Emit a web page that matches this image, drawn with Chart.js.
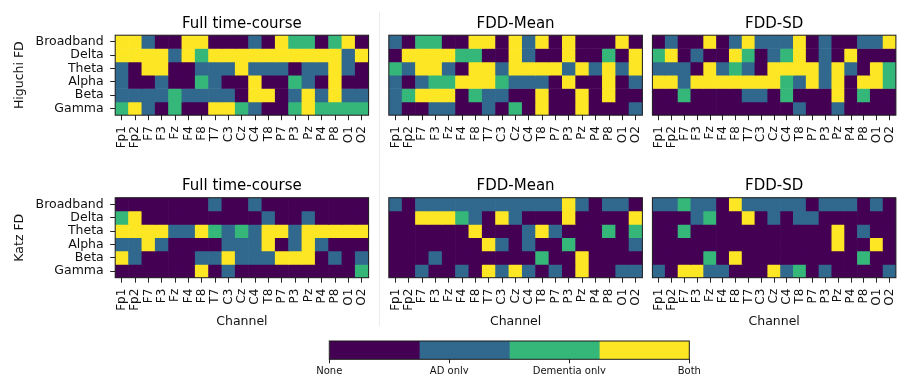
<!DOCTYPE html>
<html>
<head>
<meta charset="utf-8">
<script src="https://cdn.jsdelivr.net/npm/chart.js@4/dist/chart.umd.min.js"></script>
<style>
  html, body { margin: 0; padding: 0; width: 905px; height: 374px; overflow: hidden; background: #fff; }
  canvas { position: absolute; left: 0; top: 0; }
  #divider { position: absolute; left: 378.5px; top: 12px; width: 1.5px; height: 314px; background: #ececec; }
</style>
</head>
<body>
<div id="divider"></div>
<canvas id="hFull" width="910" height="400"></canvas>
<canvas id="hMean" width="910" height="400"></canvas>
<canvas id="hSD" width="910" height="400"></canvas>
<canvas id="kFull" width="910" height="400"></canvas>
<canvas id="kMean" width="910" height="400"></canvas>
<canvas id="kSD" width="910" height="400"></canvas>
<canvas id="legendBar" width="910" height="400"></canvas>
<script>
// EEG channels (columns) and frequency bands (rows, top to bottom)
const channels = ['Fp1','Fp2','F7','F3','Fz','F4','F8','T7','C3','Cz','C4','T8','P7','P3','Pz','P4','P8','O1','O2'];
const bands = ['Broadband','Delta','Theta','Alpha','Beta','Gamma'];

// Outcome categories: 0 = None, 1 = AD only, 2 = Dementia only, 3 = Both
const outcomes = ['None','AD only','Dementia only','Both'];
const outcomeColors = ['#440154','#31688e','#35b779','#fde725'];

// Higuchi FD
const higuchiFull = [
  [3,3,1,0,0,3,3,0,0,0,1,0,3,2,2,0,2,3,0],
  [3,3,3,3,1,3,2,3,3,3,3,3,3,3,3,3,3,1,3],
  [1,0,3,3,0,0,1,1,1,3,1,1,1,0,1,1,3,1,0],
  [1,0,0,1,0,0,2,1,0,0,3,0,0,2,1,0,3,0,0],
  [1,1,1,1,2,1,1,1,1,0,3,3,0,1,3,1,3,1,1],
  [2,3,1,0,2,0,0,3,3,2,1,0,0,2,3,2,2,2,2]
];
const higuchiMean = [
  [1,0,2,2,0,0,3,3,0,3,1,3,0,3,0,0,0,3,0],
  [0,3,3,3,3,2,2,0,0,3,1,0,0,3,0,0,2,0,3],
  [2,1,3,3,1,0,3,3,1,3,3,3,3,1,3,1,3,1,3],
  [1,0,1,2,2,3,3,3,2,1,1,1,0,3,0,0,3,0,1],
  [1,2,3,3,3,0,2,1,1,0,0,3,0,0,3,0,3,0,0],
  [1,0,0,1,1,0,0,1,0,2,0,3,0,0,3,0,0,0,1]
];
const higuchiSD = [
  [0,1,0,0,3,0,1,3,1,1,1,3,0,1,0,0,1,1,3],
  [2,3,0,1,0,0,3,2,0,1,2,3,0,1,0,3,0,0,0],
  [1,1,1,0,3,1,2,1,0,3,3,3,3,1,3,1,0,3,2],
  [3,3,1,3,3,3,3,3,3,3,2,1,3,1,3,0,3,3,2],
  [0,0,2,0,0,0,0,1,1,0,2,0,0,0,3,0,2,0,0],
  [0,0,0,0,0,0,0,0,0,0,0,1,0,0,1,0,0,0,0]
];

// Katz FD
const katzFull = [
  [0,0,0,0,0,0,0,1,0,0,1,0,0,0,0,0,0,0,0],
  [2,3,0,0,0,0,0,0,0,0,0,1,0,0,1,0,0,0,0],
  [3,3,3,3,1,1,3,2,1,2,1,3,3,1,3,3,3,3,3],
  [1,1,3,1,0,0,0,0,1,1,1,3,0,1,3,1,0,0,0],
  [3,1,0,0,0,0,1,1,3,1,1,1,3,3,3,0,1,0,1],
  [0,0,0,0,0,0,3,0,1,0,0,0,0,0,0,0,0,0,2]
];
const katzMean = [
  [1,0,1,1,1,1,1,1,1,1,1,1,1,3,1,0,1,1,0],
  [0,0,3,3,3,2,1,0,3,1,0,0,0,3,0,0,0,0,3],
  [0,0,0,0,0,0,3,0,0,0,1,3,1,0,0,0,2,0,2],
  [0,0,0,0,0,0,0,3,1,0,1,0,0,2,0,0,0,0,1],
  [0,0,0,1,0,0,0,0,0,0,0,2,0,0,3,0,0,0,0],
  [0,0,1,0,0,1,0,3,1,3,1,0,1,0,3,0,0,1,1]
];
const katzSD = [
  [1,1,2,1,1,0,3,1,1,1,1,1,0,1,1,1,0,1,0],
  [0,0,0,1,2,0,0,3,0,1,0,1,1,0,0,0,0,0,0],
  [0,0,2,0,0,0,0,0,0,0,0,0,0,0,3,0,1,0,0],
  [0,0,0,0,0,0,0,0,0,0,0,0,0,0,3,0,0,3,0],
  [0,0,0,0,2,0,3,0,0,0,0,0,0,0,0,0,2,0,0],
  [1,0,3,3,1,1,0,0,0,3,1,2,0,1,0,0,0,0,1]
];

const CW = 910, CH = 400;
const FONT = "'DejaVu Sans', 'Liberation Sans', sans-serif";
const INK = '#111';

// thin dark outline around each plot area
const frame = {
  id: 'frame',
  afterDatasetsDraw(chart) {
    const { ctx, chartArea: a } = chart;
    ctx.save();
    ctx.strokeStyle = '#1a1a1a';
    ctx.lineWidth = 1;
    ctx.strokeRect(a.left, a.top, a.right - a.left, a.bottom - a.top);
    ctx.restore();
  }
};

// panel heading, centred over the plot area itself
const panelTitle = {
  id: 'panelTitle',
  afterDraw(chart, args, opts) {
    if (!opts.text) return;
    const { ctx, chartArea: a } = chart;
    ctx.save();
    ctx.fillStyle = '#000';
    ctx.font = `15px ${FONT}`;
    ctx.textAlign = 'center';
    ctx.textBaseline = 'alphabetic';
    ctx.fillText(opts.text, (a.left + a.right) / 2, a.top - 7.5);
    ctx.restore();
  }
};

// one heatmap: each row is a set of floating bars, one bar per channel
function heatmap(id, grid, box, titleText, yTitle, xTitle) {
  const n = bands.length;
  const yAxisWidth = yTitle ? box.left - 5 : 0;
  const xAxisHeight = xTitle ? 52 : 45;
  new Chart(document.getElementById(id), {
    type: 'bar',
    data: {
      labels: channels,
      datasets: grid.map((row, r) => ({
        data: row.map(() => [n - 1 - r, n - r]),
        backgroundColor: row.map(code => outcomeColors[code]),
        borderWidth: 0,
        grouped: false,
        barPercentage: 1,
        categoryPercentage: 1
      }))
    },
    options: {
      responsive: false,
      animation: false,
      devicePixelRatio: 1,
      events: [],
      layout: {
        padding: {
          left: box.left - yAxisWidth,
          right: CW - box.right,
          top: box.top,
          bottom: CH - box.bottom - xAxisHeight
        }
      },
      plugins: {
        legend: { display: false },
        tooltip: { enabled: false },
        title: { display: false },
        panelTitle: { text: titleText }
      },
      scales: {
        x: {
          type: 'category',
          offset: true,
          grid: { offset: false, drawOnChartArea: false, drawTicks: true, tickLength: 5, color: '#222', lineWidth: 1 },
          border: { display: false },
          ticks: {
            autoSkip: false, minRotation: 90, maxRotation: 90, padding: 6,
            color: INK, font: { family: FONT, size: 12 }
          },
          title: {
            display: !!xTitle, text: xTitle || '', color: INK,
            font: { family: FONT, size: 12.5 }, padding: { top: 0, bottom: 0 }
          },
          afterFit(scale) { scale.height = xAxisHeight; }
        },
        y: {
          type: 'linear',
          display: !!yTitle,
          min: 0,
          max: n,
          grid: { drawOnChartArea: false, drawTicks: true, tickLength: 5, color: '#222', lineWidth: 1 },
          border: { display: false },
          afterBuildTicks(scale) {
            scale.ticks = bands.map((_, r) => ({ value: n - 0.5 - r }));
          },
          ticks: {
            autoSkip: false, padding: 6.5, color: INK,
            font: { family: FONT, size: 12.5 },
            callback: (v) => bands[Math.round(n - 0.5 - v)]
          },
          title: {
            display: !!yTitle, text: yTitle || '', color: INK,
            font: { family: FONT, size: 12.5 }, padding: { top: 7.4, bottom: 0 }
          },
          afterFit(scale) { scale.width = yAxisWidth; }
        }
      }
    },
    plugins: [frame, panelTitle]
  });
}

const topRow = { top: 35.2, bottom: 115.2 };
const bottomRow = { top: 197.7, bottom: 277.7 };
const cols = [
  { left: 115.2, right: 368.6 },
  { left: 388.8, right: 642.4 },
  { left: 652.4, right: 905.9 }
];

heatmap('hFull', higuchiFull, { ...cols[0], ...topRow }, 'Full time-course', 'Higuchi FD', null);
heatmap('hMean', higuchiMean, { ...cols[1], ...topRow }, 'FDD-Mean', null, null);
heatmap('hSD', higuchiSD, { ...cols[2], ...topRow }, 'FDD-SD', null, null);
heatmap('kFull', katzFull, { ...cols[0], ...bottomRow }, 'Full time-course', 'Katz FD', 'Channel');
heatmap('kMean', katzMean, { ...cols[1], ...bottomRow }, 'FDD-Mean', null, 'Channel');
heatmap('kSD', katzSD, { ...cols[2], ...bottomRow }, 'FDD-SD', null, 'Channel');

// horizontal colour key for the four outcome categories
(function colourKey() {
  const k = outcomes.length;
  const span = (k - 1) / k;
  const box = { left: 329.3, right: 689.3, top: 341, bottom: 359.3 };
  const xAxisHeight = 20;
  new Chart(document.getElementById('legendBar'), {
    type: 'bar',
    data: {
      labels: [''],
      datasets: outcomes.map((name, i) => ({
        label: name,
        data: [[i * span, (i + 1) * span]],
        backgroundColor: outcomeColors[i],
        borderWidth: 0,
        grouped: false,
        barPercentage: 1,
        categoryPercentage: 1
      }))
    },
    options: {
      indexAxis: 'y',
      responsive: false,
      animation: false,
      devicePixelRatio: 1,
      events: [],
      layout: {
        padding: { left: box.left, right: CW - box.right, top: box.top, bottom: CH - box.bottom - xAxisHeight }
      },
      plugins: { legend: { display: false }, tooltip: { enabled: false }, title: { display: false } },
      scales: {
        x: {
          type: 'linear', min: 0, max: k - 1,
          grid: { drawOnChartArea: false, drawTicks: true, tickLength: 4, color: '#222', lineWidth: 1 },
          border: { display: false },
          afterBuildTicks(scale) { scale.ticks = outcomes.map((_, i) => ({ value: i })); },
          ticks: {
            autoSkip: false, maxRotation: 0, padding: 2, color: INK,
            font: { family: FONT, size: 10 },
            callback: (v) => outcomes[Math.round(v)]
          },
          afterFit(scale) { scale.height = xAxisHeight; }
        },
        y: { display: false }
      }
    },
    plugins: [frame]
  });
})();
</script>
</body>
</html>
